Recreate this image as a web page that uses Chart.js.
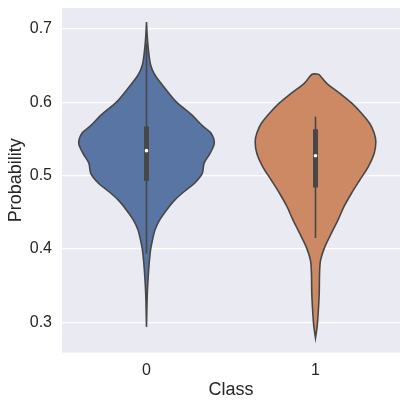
<!DOCTYPE html>
<html>
<head>
<meta charset="utf-8">
<script src="https://cdn.jsdelivr.net/npm/chart.js@4.4.0/dist/chart.umd.min.js"></script>
<style>
  html, body { margin: 0; padding: 0; background: #ffffff; }
  #wrap { width: 407px; height: 407px; }
</style>
</head>
<body>
<div id="wrap"><canvas id="violin"></canvas></div>
<script>
// --- data
var classes = ['0', '1'];
var yTicks = [0.3, 0.4, 0.5, 0.6, 0.7];

// class 0 outline: value -> half width (category units)
var class0Values = [0.709, 0.691, 0.674, 0.651, 0.637, 0.619, 0.600, 0.583, 0.567, 0.558, 0.544, 0.530, 0.517, 0.503, 0.490, 0.481, 0.467, 0.453, 0.440, 0.426, 0.413, 0.399, 0.381, 0.362, 0.335, 0.294];
var class0Widths = [0.000, 0.004, 0.010, 0.024, 0.050, 0.109, 0.178, 0.266, 0.335, 0.381, 0.401, 0.375, 0.341, 0.330, 0.286, 0.237, 0.168, 0.118, 0.079, 0.050, 0.036, 0.024, 0.016, 0.010, 0.004, 0.000];

// class 1 outline
var class1Values = [0.638, 0.626, 0.612, 0.599, 0.585, 0.571, 0.558, 0.546, 0.530, 0.512, 0.494, 0.476, 0.458, 0.440, 0.422, 0.403, 0.385, 0.367, 0.340, 0.313, 0.295, 0.279];
var class1Widths = [0.020, 0.065, 0.144, 0.213, 0.272, 0.321, 0.347, 0.357, 0.347, 0.312, 0.262, 0.213, 0.169, 0.134, 0.095, 0.055, 0.030, 0.024, 0.022, 0.016, 0.010, 0.000];

// inner box: [lower whisker, q1, median, q3, upper whisker]
var class0Box = [0.394, 0.493, 0.534, 0.567, 0.680];
var class1Box = [0.415, 0.484, 0.527, 0.563, 0.580];

var fillColors = ['#5875a4', '#cc8963'];
var lineGray = '#474747';

//--- build helpers
function outline(cat, values, widths) {
    var pts = [];
    for (var i = 0; i < values.length; i++) {
        pts.push({x: cat + widths[i], y: values[i]});
    }
    for (var j = values.length - 1; j >= 0; j--) {
        pts.push({x: cat - widths[j], y: values[j]});
    }
    pts.push(pts[0]);
    return pts;
}

function violinSet(cat, values, widths) {
    return {
        data: outline(cat, values, widths),
        showLine: true,
        fill: 'shape',
        backgroundColor: fillColors[cat],
        borderColor: lineGray,
        borderWidth: 1.6,
        pointRadius: 0,
        tension: 0.3,
        order: 3
    };
}

function whiskerSet(cat, box) {
    return {
        data: [{x: cat, y: box[0]}, {x: cat, y: box[4]}],
        showLine: true,
        borderColor: lineGray,
        borderWidth: 1.6,
        pointRadius: 0,
        order: 2
    };
}

function boxSet(cat, box) {
    return {
        data: [{x: cat, y: box[1]}, {x: cat, y: box[3]}],
        showLine: true,
        borderColor: lineGray,
        borderWidth: 5,
        borderCapStyle: 'butt',
        pointRadius: 0,
        order: 1
    };
}

function medianSet(cat, box) {
    return {
        data: [{x: cat, y: box[2]}],
        pointRadius: 1.8,
        pointBackgroundColor: '#ffffff',
        pointBorderWidth: 0,
        order: 0
    };
}

var datasets = [
    violinSet(0, class0Values, class0Widths),
    violinSet(1, class1Values, class1Widths),
    whiskerSet(0, class0Box),
    whiskerSet(1, class1Box),
    boxSet(0, class0Box),
    boxSet(1, class1Box),
    medianSet(0, class0Box),
    medianSet(1, class1Box)
];

// darkgrid background behind the plot area
var plotBackground = {
    id: 'plotBackground',
    beforeDraw: function (chart) {
        var a = chart.chartArea;
        var ctx = chart.ctx;
        ctx.save();
        ctx.fillStyle = '#eaeaf2';
        ctx.fillRect(a.left, a.top, a.right - a.left, a.bottom - a.top);
        ctx.restore();
    }
};

Chart.defaults.font.family = '"Liberation Sans", Arial, sans-serif';
Chart.defaults.color = '#262626';

new Chart(document.getElementById('violin'), {
    type: 'scatter',
    data: { datasets: datasets },
    plugins: [plotBackground],
    options: {
        responsive: true,
        maintainAspectRatio: false,
        animation: false,
        layout: { padding: { top: 8, right: 7, left: 0, bottom: 0 } },
        plugins: {
            legend: { display: false },
            tooltip: { enabled: false }
        },
        scales: {
            x: {
                type: 'linear',
                min: -0.5,
                max: 1.5,
                afterBuildTicks: function (scale) {
                    scale.ticks = classes.map(function (c, i) { return {value: i}; });
                },
                afterFit: function (scale) {
                    scale.height = 54.5;
                    scale.paddingLeft = 0;
                    scale.paddingRight = 0;
                },
                ticks: {
                    font: { size: 16 },
                    padding: 8,
                    callback: function (v) { return classes[v]; }
                },
                grid: { display: false, drawTicks: false },
                border: { display: false },
                title: { display: true, text: 'Class', font: { size: 18 }, padding: { top: 0, bottom: 6 } }
            },
            y: {
                min: 0.2592,
                max: 0.7282,
                afterBuildTicks: function (scale) {
                    scale.ticks = yTicks.map(function (v) { return {value: v}; });
                },
                afterFit: function (scale) {
                    scale.width = 62;
                    scale.paddingTop = 0;
                    scale.paddingBottom = 0;
                },
                ticks: {
                    font: { size: 16 },
                    padding: 10,
                    callback: function (v) { return v.toFixed(1); }
                },
                grid: { color: '#ffffff', lineWidth: 1.2, drawTicks: false },
                border: { display: false },
                title: { display: true, text: 'Probability', font: { size: 18 }, padding: { top: 5, bottom: 0 } }
            }
        }
    }
});
</script>
</body>
</html>
